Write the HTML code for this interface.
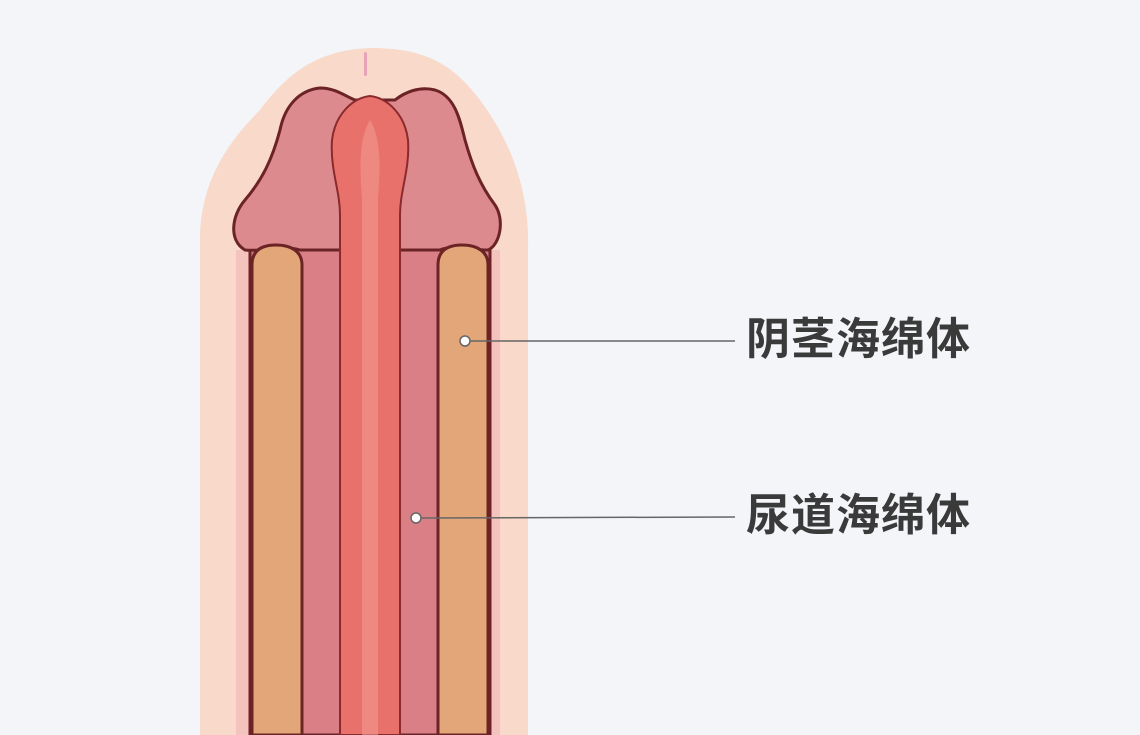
<!DOCTYPE html>
<html><head><meta charset="utf-8"><style>
html,body{margin:0;padding:0;background:#f3f5f9;}
.lbl{position:absolute;font-family:"Liberation Sans","Noto Sans CJK SC",sans-serif;font-size:44px;font-weight:bold;color:#3a3a3a;letter-spacing:1px;line-height:50px;}
</style></head><body>
<div style="position:relative;width:1140px;height:735px;overflow:hidden;">
<svg width="1140" height="735" style="position:absolute;left:0;top:0">
<path d="M200,735 L200,240 C200,180 230,140 260,110 C290,70 320,50 370,48 C420,48 450,60 480,100 C510,140 530,190 528,250 L528,735 Z" fill="#f9d9ca"/>
<path d="M236,735 L236,250 L500,250 L500,735 Z" fill="#f4c3bd"/>
<path d="M250,735 L250,245 L490,245 L490,735 Z" fill="#d97f85" stroke="#6b2326" stroke-width="3"/>
<path d="M245,250 C228,240 232,215 245,200 C262,180 272,160 280,130 C285,105 300,90 320,88 C335,88 345,96 355,100 L395,100 C405,92 420,86 435,90 C455,96 460,120 465,140 C472,165 480,185 495,205 C505,220 500,245 488,250 C470,250 450,245 440,250 L300,250 C285,245 262,252 245,250 Z" fill="#dc8a8e" stroke="#6b2326" stroke-width="3"/>
<path d="M252,735 L252,265 C252,250 262,245 276,245 C292,245 302,252 302,265 L302,735 Z" fill="#e3a678" stroke="#6b2326" stroke-width="3"/>
<path d="M438,735 L438,265 C438,250 448,245 462,245 C478,245 488,252 488,265 L488,735 Z" fill="#e3a678" stroke="#6b2326" stroke-width="3"/>
<path d="M340,735 L340,215 C340,190 330,170 332,140 C335,115 352,98 370,96 C388,98 405,115 408,140 C410,170 400,190 400,215 L400,735 Z" fill="#e8716c" stroke="#8a2a2c" stroke-width="2"/>
<path d="M362,735 L362,200 C360,170 358,140 370,120 C382,140 380,170 378,200 L378,735 Z" fill="#f29a90" opacity="0.6"/>
<rect x="364" y="52" width="3" height="24" rx="1.5" fill="#e9a3b8"/>
<line x1="465" y1="341" x2="735" y2="341" stroke="#666" stroke-width="1.5"/>
<circle cx="465" cy="341" r="5" fill="#fff" stroke="#666" stroke-width="1.5"/>
<line x1="416" y1="518" x2="735" y2="517" stroke="#666" stroke-width="1.5"/>
<circle cx="416" cy="518" r="5" fill="#fff" stroke="#666" stroke-width="1.5"/>
</svg>
<div class="lbl" style="left:746px;top:315px;">阴茎海绵体</div>
<div class="lbl" style="left:746px;top:491px;">尿道海绵体</div>
</div>
</body></html>
